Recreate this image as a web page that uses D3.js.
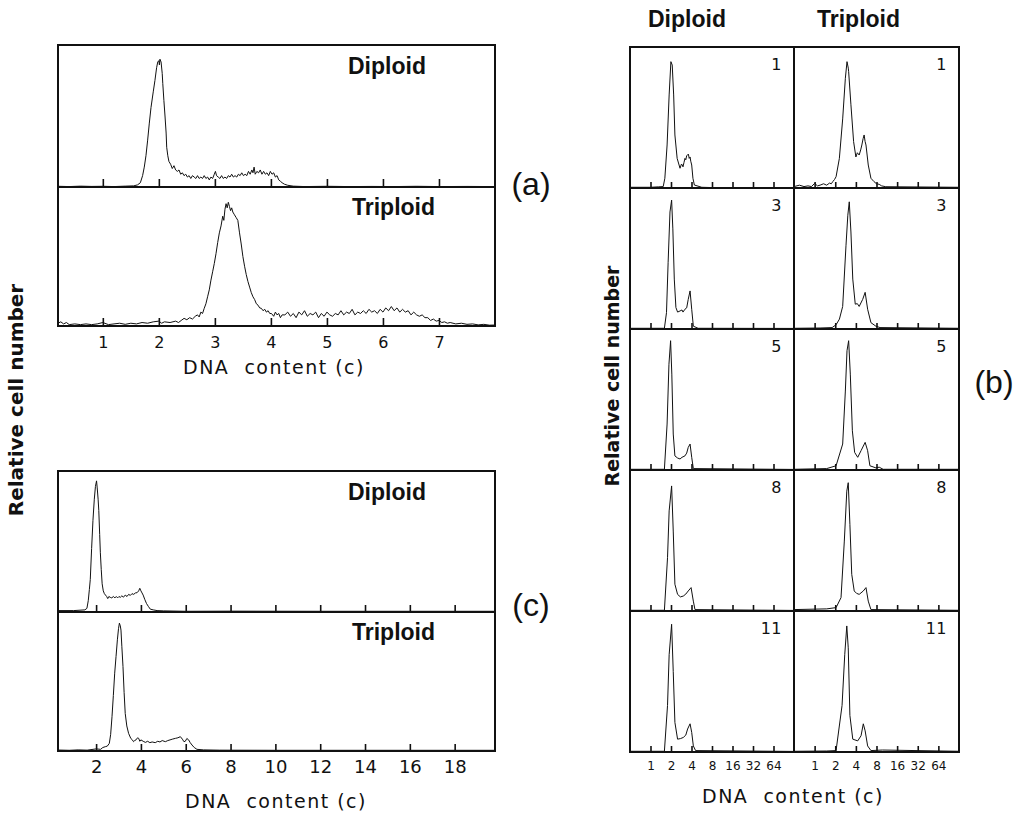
<!DOCTYPE html>
<html>
<head>
<meta charset="utf-8">
<script src="https://cdn.jsdelivr.net/npm/d3@7"></script>
<style>
  body { margin: 0; background: #fff; }
  svg { display: block; }
  .frame { fill: none; stroke: #111; stroke-width: 2; }
  .trace { fill: none; stroke: #111; stroke-width: 1; stroke-linejoin: round; }
  .tick line { stroke: #111; stroke-width: 1.6; }
  .axlab { font-family: "DejaVu Sans", sans-serif; fill: #111; }
  .plabel { font-family: "Liberation Sans", Arial, sans-serif; font-weight: bold; fill: #111; }
  .rownum { font-family: "DejaVu Sans", sans-serif; fill: #111; }
</style>
</head>
<body>
<script>
// ---- data: DNA content (c) vs relative cell number (0-100) ----

// panel (a), linear axis
const aTicks = [1, 2, 3, 4, 5, 6, 7];
const aDiploid = [
  [0.2,0.5],[0.4,0.3],[0.6,0.6],[0.8,0.4],[1.0,0.5],[1.2,0.3],[1.4,0.6],[1.55,0.8],[1.62,1.5],[1.67,3],
  [1.71,8],[1.74,14],[1.77,22],[1.80,33],[1.83,45],[1.86,56],[1.90,67],[1.93,75],[1.96,84],[1.98,88],
  [2.00,89],[2.01,86],[2.02,90],[2.04,88],[2.06,80],[2.07,73],[2.09,61],[2.11,50],[2.13,38],[2.14,28],
  [2.16,22],[2.18,18],[2.21,16],[2.24,13],[2.27,15],[2.30,12],[2.33,11],[2.36,12],[2.39,9],[2.42,10],
  [2.45,8],[2.48,9],[2.51,7],[2.54,8],[2.57,6],[2.60,8],[2.63,7],[2.66,6],[2.69,8],[2.72,6],[2.75,7],
  [2.78,6],[2.81,8],[2.84,6],[2.87,7],[2.90,5],[2.93,7],[2.96,6],[2.99,9],[3.01,11],[3.03,8],[3.06,7],
  [3.09,6],[3.12,8],[3.15,6],[3.18,7],[3.21,6],[3.24,8],[3.27,7],[3.30,9],[3.33,7],[3.36,8],[3.39,7],
  [3.42,9],[3.45,8],[3.48,10],[3.51,8],[3.54,9],[3.57,8],[3.60,11],[3.63,9],[3.66,12],[3.68,10],
  [3.70,14],[3.72,9],[3.75,11],[3.78,10],[3.81,12],[3.84,9],[3.87,11],[3.90,9],[3.93,10],[3.96,8],
  [3.99,11],[4.02,9],[4.05,10],[4.08,7],[4.11,8],[4.14,5],[4.17,4],[4.20,3],[4.24,2],[4.30,1.2],
  [4.40,0.6],[4.6,0.3],[5.0,0.5],[5.4,0.3],[5.8,0.4],[6.2,0.3],[6.6,0.5],[7.0,0.3],[7.5,0.4],[8.0,0.3]
];
const aTriploid = [
  [0.2,2],[0.25,3],[0.3,1.5],[0.35,2.5],[0.4,1],[0.5,1.5],[0.6,1],[0.7,1.5],[0.8,1],[0.9,1.5],[1.0,2.5],
  [1.1,1],[1.2,1.5],[1.3,2],[1.4,1.2],[1.5,2],[1.6,1.5],[1.7,2.5],[1.8,2],[1.9,3],[2.0,3.5],[2.05,2],
  [2.1,3],[2.2,2.5],[2.3,3.5],[2.35,2.5],[2.4,4],[2.45,5.5],[2.5,4.5],[2.55,6],[2.6,5],[2.65,7],[2.69,8],
  [2.72,6.5],[2.75,10],[2.78,9],[2.81,12.7],[2.84,16],[2.87,21],[2.90,26],[2.93,33],[2.96,39],[2.99,45],
  [3.02,52],[3.05,60],[3.08,67],[3.11,72],[3.14,79],[3.16,76],[3.18,84],[3.20,88],[3.22,85],[3.24,89],
  [3.26,86],[3.28,83],[3.30,85],[3.32,82],[3.35,80],[3.38,78],[3.41,76],[3.44,67],[3.47,59],[3.50,50],
  [3.53,43],[3.56,37],[3.59,32],[3.62,28],[3.65,24],[3.68,21],[3.71,19],[3.74,16],[3.77,15],[3.80,13],
  [3.83,12.7],[3.86,11],[3.89,12],[3.92,10],[3.95,11],[3.98,9],[4.01,9],[4.05,7],[4.08,10],[4.11,8],
  [4.14,9],[4.17,6],[4.20,8],[4.25,8],[4.30,10],[4.35,7],[4.40,9],[4.45,6],[4.50,10],[4.55,8],[4.60,11],
  [4.65,7],[4.70,9],[4.75,8],[4.80,10],[4.85,6],[4.90,9],[4.95,7],[5.00,10],[5.05,8],[5.10,7],[5.15,9],
  [5.20,8],[5.25,11],[5.30,8],[5.35,10],[5.40,9],[5.45,12],[5.50,8],[5.55,10],[5.60,9],[5.65,11],
  [5.70,9],[5.75,12],[5.80,10],[5.85,11],[5.90,9],[5.95,12],[6.00,10],[6.05,13],[6.10,11],[6.15,14],
  [6.20,11],[6.25,13],[6.30,10],[6.35,12],[6.40,10],[6.45,11],[6.50,8],[6.55,10],[6.60,8],[6.65,7],
  [6.70,8],[6.75,6],[6.80,6],[6.85,4],[6.90,5],[6.95,3.5],[7.00,4],[7.05,2.5],[7.10,3],[7.15,2],
  [7.20,2.5],[7.30,1.5],[7.40,2],[7.50,1.2],[7.60,1.5],[7.70,0.8],[7.80,1.2],[7.90,0.6],[8.0,0.7]
];

// panel (c), linear axis
const cTicks = [2, 4, 6, 8, 10, 12, 14, 16, 18];
const cDiploid = [
  [0.3,1],[1.0,1],[1.5,1.5],[1.59,2.6],[1.65,8],[1.70,16],[1.74,23],[1.80,45],[1.86,65],[1.92,80],
  [1.97,89],[2.02,93],[2.05,88],[2.09,80],[2.12,72],[2.16,55],[2.19,42],[2.23,30],[2.27,20],[2.32,15],
  [2.37,13],[2.42,12],[2.47,11],[2.52,9.5],[2.57,11],[2.63,10.4],[2.70,10],[2.77,11],[2.84,10],[2.90,11],
  [2.96,10],[3.02,11],[3.08,10.4],[3.15,11.5],[3.22,10.5],[3.30,12],[3.38,11],[3.45,12.5],[3.53,11.8],
  [3.60,13],[3.68,12.5],[3.75,13.5],[3.83,13.7],[3.90,15],[3.95,16.8],[4.00,15],[4.05,13.5],[4.10,12],
  [4.17,9],[4.25,6],[4.33,4],[4.42,2],[4.55,1.5],[4.72,1],[5.0,0.8],[6.0,0.5],[8.0,0.6],[12.0,0.5],
  [16.0,0.5],[19.8,0.5]
];
const cTriploid = [
  [0.3,0.7],[0.8,0.5],[1.2,0.8],[1.6,0.6],[2.0,1.5],[2.2,1.2],[2.3,2.5],[2.41,3.1],[2.50,3.5],[2.59,5.5],
  [2.65,12],[2.71,24.7],[2.77,40],[2.83,56],[2.89,68],[2.95,80],[3.00,88],[3.04,92],[3.08,90],[3.11,87],
  [3.15,75],[3.20,60.7],[3.25,42],[3.30,27],[3.37,18],[3.45,12.7],[3.55,9],[3.62,8],[3.67,6.7],[3.72,7.5],
  [3.78,8],[3.85,9.5],[3.90,9.1],[3.95,7],[4.00,8],[4.10,7],[4.20,6.2],[4.30,7],[4.40,6],[4.50,6.5],
  [4.64,6],[4.75,7],[4.85,6.5],[4.95,7.5],[5.09,6.7],[5.20,7.5],[5.30,8],[5.40,8.5],[5.54,9.1],[5.65,9.5],
  [5.76,10.3],[5.85,8.5],[5.92,6.7],[5.98,7],[6.05,9],[6.13,8],[6.20,6],[6.28,4.3],[6.38,2.5],[6.50,1.2],
  [6.80,0.8],[7.5,0.6],[10.0,0.5],[14.0,0.5],[19.8,0.5]
];

// panel (b), log2 axis, one row per culture time
const bTicks = [1, 2, 4, 8, 16, 32, 64];
const bRows = ["1", "3", "5", "8", "11"];
const bDiploid = [
  [[0.5,0.5],[1.0,0.5],[1.3,0.8],[1.537,1],[1.625,6.9],[1.753,30.5],[1.879,66],[1.993,89.6],[2.085,87.2],
   [2.188,66],[2.282,37.6],[2.462,21],[2.713,14],[2.85,17],[2.928,16.3],[3.0,15],[3.1,18],[3.204,21],
   [3.3,20],[3.4,23],[3.506,23.4],[3.6,24],[3.7,21],[3.811,22],[3.9,19],[4.028,16.3],[4.199,6.9],
   [4.407,2.1],[5.657,0.5],[8,0.3],[128,0.3]],
  [[0.5,0.5],[1.6,0.5],[1.717,11.6],[1.815,47.3],[1.932,83],[2.042,91.4],[2.129,71],[2.235,35.4],
   [2.362,15.2],[2.5,12],[2.713,12.8],[2.9,13.5],[3.0,12],[3.204,14],[3.4,15],[3.58,21],[3.811,27],
   [4.028,14],[4.257,2],[5,0.5],[128,0.4]],
  [[0.5,0.5],[1.6,0.5],[1.753,32.6],[1.866,75],[1.973,91.7],[2.056,68],[2.158,25.5],[2.282,10],
   [2.5,8.5],[2.713,7.8],[2.9,9],[3.204,10],[3.4,12],[3.58,16],[3.811,18.4],[4.028,9],[4.257,1],[128,0.4]],
  [[0.5,0.5],[1.6,0.5],[1.778,37.8],[1.879,71],[2.042,88.7],[2.158,56.7],[2.282,19],[2.497,11.8],
   [2.75,10],[3.031,10.6],[3.3,12],[3.58,14.2],[3.945,16.6],[4.257,7],[4.5,1],[128,0.4]],
  [[0.5,0.5],[1.6,0.5],[1.778,33],[1.879,69],[2.042,90.6],[2.158,57],[2.282,21],[2.497,9.1],
   [2.75,9.5],[3.031,10.3],[3.3,12],[3.506,16.3],[3.811,20],[4.028,13.9],[4.257,4.3],[4.595,1],[128,0.4]]
];
const bTriploid = [
  [[0.5,1],[0.6,2],[0.7,1],[0.8,1.5],[0.9,1],[1.0,3.3],[1.1,1.5],[1.2,2],[1.35,3],[1.5,2],[1.65,3.5],
   [1.75,3],[1.84,4.5],[1.95,6],[2.056,8],[2.297,21],[2.567,49],[2.809,77.8],[2.969,89.6],[3.1,85],
   [3.138,82.5],[3.387,59],[3.706,32.9],[4.0,22],[4.2,25],[4.469,23.4],[4.7,27],[4.89,30.5],[5.1,35],
   [5.278,37.6],[5.45,33],[5.618,30.5],[6.063,16.3],[6.635,6.9],[7.362,4.5],[8.0,3],[8.754,2.6],
   [9.5,1.5],[10.93,0.9],[128,0.5]],
  [[0.5,0.5],[1.2,0.7],[1.8,1],[2.056,3],[2.3,7],[2.567,16],[2.868,59],[3.052,80.7],[3.204,90.2],
   [3.387,68.8],[3.605,35.4],[3.918,17.6],[4.2,18],[4.469,16],[5.028,21],[5.464,26],[5.938,14],
   [6.635,4.5],[7.835,2],[9,1],[128,0.5]],
  [[0.5,0.5],[1.5,1],[2.056,3],[2.567,18.4],[2.809,56],[2.969,84.6],[3.138,91.7],[3.317,68],
   [3.555,27.8],[3.837,12.5],[4.257,9],[4.757,13.7],[5.464,19.6],[5.938,13.7],[6.409,3],[7.835,1.5],
   [8.754,2],[10,0.5],[128,0.5]],
  [[0.5,1],[1.5,1.5],[2.056,2.4],[2.428,9.5],[2.713,49.6],[2.948,85],[3.095,91],[3.272,61.5],
   [3.482,26],[3.784,14.2],[4.1,12.5],[4.469,11.8],[5.134,14.2],[5.618,16.6],[6.063,7],[6.635,1],[128,0.5]],
  [[0.5,0.5],[1.5,0.7],[2.056,1],[2.514,33],[2.751,69],[2.948,89.4],[3.095,73.9],[3.272,25.9],
   [3.605,9.1],[4.257,7.9],[4.757,11.5],[5.134,20],[5.464,15],[5.938,4.3],[6.635,1],[9.781,1.4],[128,0.5]]
];

// ---- drawing ----
const svg = d3.select("body").append("svg").attr("width", 1015).attr("height", 819);
const yDomain = [0, 100];

function drawTrace(x, top, bottom, data) {
  const y = d3.scaleLinear().domain(yDomain).range([bottom, top]);
  svg.append("path")
    .datum(data)
    .attr("class", "trace")
    .attr("d", d3.line().x(d => x(d[0])).y(d => y(d[1])));
}

function drawTicks(x, bottom, vals, len) {
  svg.append("g")
    .attr("transform", `translate(0,${bottom})`)
    .call(d3.axisBottom(x).tickValues(vals).tickSize(-len).tickFormat(""))
    .call(g => g.select(".domain").remove());
}

function drawTickLabels(x, bottom, vals, offset, size) {
  svg.append("g")
    .attr("transform", `translate(0,${bottom})`)
    .call(d3.axisBottom(x).tickValues(vals).tickSize(0).tickFormat(d3.format("d")))
    .call(g => g.select(".domain").remove())
    .call(g => g.selectAll("text")
      .attr("class", "axlab")
      .attr("y", offset).attr("dy", null)
      .attr("font-size", size));
}

function xTitle(cx, y) {
  svg.append("text").attr("class", "axlab")
    .attr("x", cx).attr("y", y)
    .attr("text-anchor", "middle")
    .attr("font-size", 19)
    .attr("letter-spacing", 1.5)
    .style("white-space", "pre")
    .text("DNA  content (c)");
}

function plabel(text, x, y, size, anchor) {
  svg.append("text").attr("class", "plabel")
    .attr("x", x).attr("y", y)
    .attr("font-size", size)
    .attr("text-anchor", anchor || "start")
    .text(text);
}

// two stacked histograms sharing one linear axis: panels (a) and (c)
function stackedPanel(domain, left, right, top, mid, bottom, dip, tri, ticks, tickLen, tickSize) {
  const x = d3.scaleLinear().domain(domain).range([left, right]);
  drawTrace(x, top, mid, dip);
  drawTrace(x, mid, bottom, tri);
  drawTicks(x, mid, ticks, tickLen);
  drawTicks(x, bottom, ticks, tickLen);
  drawTickLabels(x, bottom, ticks, 22, tickSize);
  svg.append("rect").attr("class", "frame")
    .attr("x", left).attr("y", top).attr("width", right - left).attr("height", bottom - top);
  svg.append("line").attr("class", "frame")
    .attr("x1", left).attr("x2", right).attr("y1", mid).attr("y2", mid);
  plabel("Diploid", 348, top + 29, 23);
  plabel("Triploid", 352, mid + 28, 23);
}

stackedPanel([0.2, 8.0], 58, 495, 45, 187, 326, aDiploid, aTriploid, aTicks, 8, 16);
xTitle(274, 374);
stackedPanel([0.3, 19.8], 58, 495, 471, 612, 751, cDiploid, cTriploid, cTicks, 7, 18);
xTitle(276, 808);

// panel (b): grid of 5 rows x 2 columns, log2 axis
const bLeft = 630, bMid = 794, bRight = 959, bTop = 47, bBottom = 752;
const rowY = d3.scaleBand().domain(bRows).range([bTop, bBottom]).paddingInner(0);
const cols = [
  { x: d3.scaleLog().base(2).domain([0.5, 128]).range([bLeft, bMid]), data: bDiploid, name: "Diploid" },
  { x: d3.scaleLog().base(2).domain([0.5, 128]).range([bMid, bRight]), data: bTriploid, name: "Triploid" }
];
cols.forEach(col => {
  bRows.forEach((r, i) => {
    const top = rowY(r), bottom = top + rowY.bandwidth();
    drawTrace(col.x, top, bottom, col.data[i]);
    drawTicks(col.x, bottom, bTicks, 6);
    svg.append("text").attr("class", "rownum")
      .attr("x", col.x.range()[1] - 12).attr("y", top + 23)
      .attr("font-size", 16).attr("letter-spacing", 0.5)
      .attr("text-anchor", "end")
      .text(r);
  });
  drawTickLabels(col.x, bBottom, bTicks, 18, 12);
  plabel(col.name, col.x.range()[0] + (col.name === "Diploid" ? 18 : 23), 27, 23);
});
svg.append("rect").attr("class", "frame")
  .attr("x", bLeft).attr("y", bTop).attr("width", bRight - bLeft).attr("height", bBottom - bTop);
svg.append("line").attr("class", "frame")
  .attr("x1", bMid).attr("x2", bMid).attr("y1", bTop).attr("y2", bBottom);
bRows.slice(1).forEach(r => {
  svg.append("line").attr("class", "frame")
    .attr("x1", bLeft).attr("x2", bRight).attr("y1", rowY(r)).attr("y2", rowY(r));
});
xTitle(793, 803);

// y titles
function yTitle(cx, cy, size) {
  svg.append("text").attr("class", "axlab")
    .attr("transform", `translate(${cx},${cy}) rotate(-90)`)
    .attr("text-anchor", "middle")
    .attr("font-weight", "bold")
    .attr("font-size", size)
    .text("Relative cell number");
}
yTitle(23, 400, 20);
yTitle(619, 376, 19);

// panel letters
svg.selectAll(".letter")
  .data([["(a)", 531, 195], ["(b)", 994, 393], ["(c)", 531, 616]])
  .join("text")
  .attr("class", "letter")
  .attr("x", d => d[1]).attr("y", d => d[2])
  .attr("text-anchor", "middle")
  .attr("font-family", "Liberation Sans, Arial, sans-serif")
  .attr("font-size", 32)
  .attr("fill", "#111")
  .text(d => d[0]);
</script>
</body>
</html>
